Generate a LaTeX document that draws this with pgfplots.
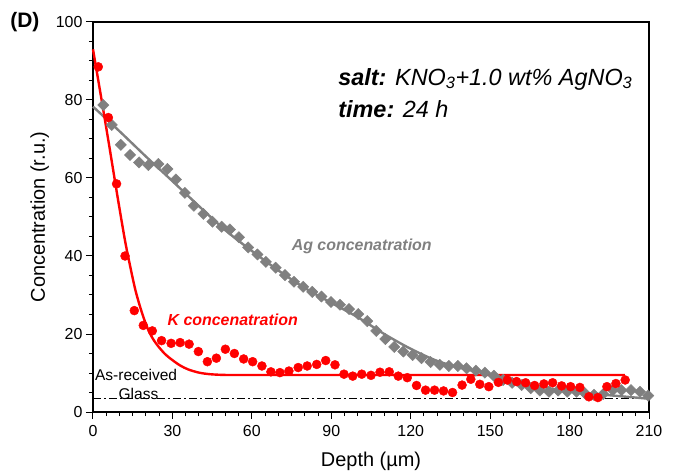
\documentclass[border=0pt]{standalone}
\usepackage{fontspec}
\setmainfont{Liberation Sans}
\usepackage{pgfplots}
\pgfplotsset{compat=1.18}
\definecolor{kred}{RGB}{255,0,0}
\definecolor{aggray}{RGB}{128,128,128}
\begin{document}
\begin{tikzpicture}
\begin{axis}[
  width=556bp, height=390bp, scale only axis,
  xmin=0, xmax=210, ymin=0, ymax=100,
  xtick={0,30,...,210}, ytick={0,20,...,100},
  minor x tick num=5, minor y tick num=3,
  tick align=outside, xtick pos=bottom, ytick pos=left,
  major tick length=7bp, minor tick length=4bp,
  axis line style={line width=1.1bp}, every tick/.style={line width=1bp, black},
  /pgf/number format/assume math mode=true,
  tick label style={font=\fontsize{16}{19}\selectfont},
  xticklabel style={yshift=-3bp},
  label style={font=\fontsize{20}{24}\selectfont},
  xlabel style={yshift=-8bp},
  xlabel={Depth (µm)}, ylabel={Concentration (r.u.)},
  clip=false,
]
% as-received glass level
\addplot[black, line width=1.1bp, dash pattern=on 8bp off 3bp on 2bp off 3bp] coordinates {(0,3.5) (210,3.5)};
% Ag data
\addplot[only marks, mark=square*, mark size=4bp, mark options={rotate=45}, color=aggray] coordinates {
(3.9,78.7) (7.1,73.6) (10.5,68.5) (14.0,65.9) (17.4,64.0) (20.9,63.3)
(24.7,63.6) (28.1,62.3) (31.3,59.6) (34.7,56.2) (38.1,52.9) (41.7,50.8)
(45.1,48.8) (48.6,47.5) (51.7,46.8) (55.1,44.8) (58.6,42.2) (62.1,40.4)
(65.3,38.5) (69.0,37.0) (72.5,35.1) (75.9,33.4) (79.4,32.1) (82.8,30.8)
(86.3,29.6) (89.9,28.2) (93.3,27.5) (96.7,26.4) (100.2,25.1) (103.6,23.3)
(107.0,20.8) (110.4,18.7) (113.8,16.7) (117.2,15.5) (120.7,14.6) (124.1,13.8)
(127.5,12.8) (131.0,12.1) (134.4,11.8) (137.8,11.8) (141.1,11.2) (144.6,10.6)
(148.0,10.1) (151.4,9.3) (154.9,8.2) (158.3,7.5) (161.9,6.9) (165.3,6.1)
(168.8,5.5) (172.2,5.2) (175.7,5.5) (179.1,5.2) (182.6,5.2) (185.8,4.8)
(189.2,4.4) (192.7,4.6) (196.3,5.6) (199.6,5.6) (203.2,5.6) (206.6,5.2)
(209.7,4.2)};
% Ag fit
\addplot[aggray, line width=2.4bp, smooth] coordinates {
(0,78.3) (10,72) (20,65.5) (30,59.2) (40,52.8) (50,46.6) (60,41.3) (70,36.3)
(80,31.8) (90,28.0) (100,24.3) (110,20.0) (120,16.2) (130,13.1) (140,11.1)
(150,9.6) (160,8.0) (170,6.4) (180,5.3) (190,4.6) (200,4.0) (210,3.4)};
% K data
\addplot[only marks, mark=*, mark size=4.5bp, color=kred] coordinates {
(2.0,88.5) (5.8,75.5) (8.9,58.5) (12.1,40.0) (15.6,26.0) (19.0,22.2)
(22.4,20.8) (25.9,18.3) (29.5,17.6) (32.9,17.8) (36.3,17.4) (39.8,15.5)
(43.2,12.9) (46.6,13.8) (50.0,16.1) (53.4,15.0) (56.9,13.6) (60.3,12.9)
(63.8,11.8) (67.2,10.3) (70.6,10.1) (74.0,10.5) (77.5,11.4) (80.9,11.8)
(84.5,12.2) (87.9,13.2) (91.4,12.1) (94.8,9.7) (98.1,9.2) (101.5,9.7)
(105.0,9.4) (108.4,10.2) (111.9,10.3) (115.3,9.2) (118.7,8.8) (122.2,6.8)
(125.6,5.6) (129.0,5.6) (132.4,5.4) (135.8,5.0) (139.4,6.9) (142.7,8.4)
(146.1,7.1) (149.5,6.5) (153.1,7.6) (156.5,8.2) (160.0,7.8) (163.4,7.5)
(166.8,6.8) (170.3,7.2) (173.6,7.5) (177.0,6.7) (180.4,6.5) (183.9,6.3)
(187.3,3.9) (190.7,3.7) (194.1,6.5) (197.5,7.3) (201.0,8.2)};
% K fit
\addplot[kred, line width=2.4bp, smooth] coordinates {
(0,93) (3,81) (6,68.8) (9,56.3) (12,44.3) (14,37.5) (16,31.3) (18,26.5)
(20,22.5) (22,19.5) (24,17.4) (27,15) (30,13.3) (33,11.9) (36,10.9)
(40,10.1) (44,9.7) (50,9.5) (60,9.5) (200.9,9.5)};
% annotations
\node[anchor=base west, inner sep=0pt, font=\fontsize{23.5}{28}\selectfont]
  at (axis cs:92.6,83.8) {\textbf{\textit{salt:}} \textit{KNO\textsubscript{3}+1.0 wt\% AgNO\textsubscript{3}}};
\node[anchor=base west, inner sep=0pt, font=\fontsize{23.5}{28}\selectfont]
  at (axis cs:92.6,75.6) {\textbf{\textit{time:}} \textit{24 h}};
\node[anchor=base west, inner sep=0pt, text=aggray, font=\fontsize{16}{19}\selectfont\bfseries\itshape]
  at (axis cs:75.0,41.4) {Ag concenatration};
\node[anchor=base west, inner sep=0pt, text=kred, font=\fontsize{16}{19}\selectfont\bfseries\itshape]
  at (axis cs:28.1,22.1) {K concenatration};
\node[anchor=base west, inner sep=0pt, font=\fontsize{15.6}{19}\selectfont]
  at (axis cs:0.7,8.2) {As-received};
\node[anchor=base west, inner sep=0pt, font=\fontsize{15.6}{19}\selectfont]
  at (axis cs:9.6,3.3) {Glass};
\node[anchor=base west, inner sep=0pt, font=\fontsize{21}{25}\selectfont\bfseries]
  at (axis cs:-31.3,98.5) {(D)};
\end{axis}
\path ([xshift=-93bp,yshift=-61bp]current axis.south west) rectangle ([xshift=28bp,yshift=22bp]current axis.north east);
\end{tikzpicture}
\end{document}
